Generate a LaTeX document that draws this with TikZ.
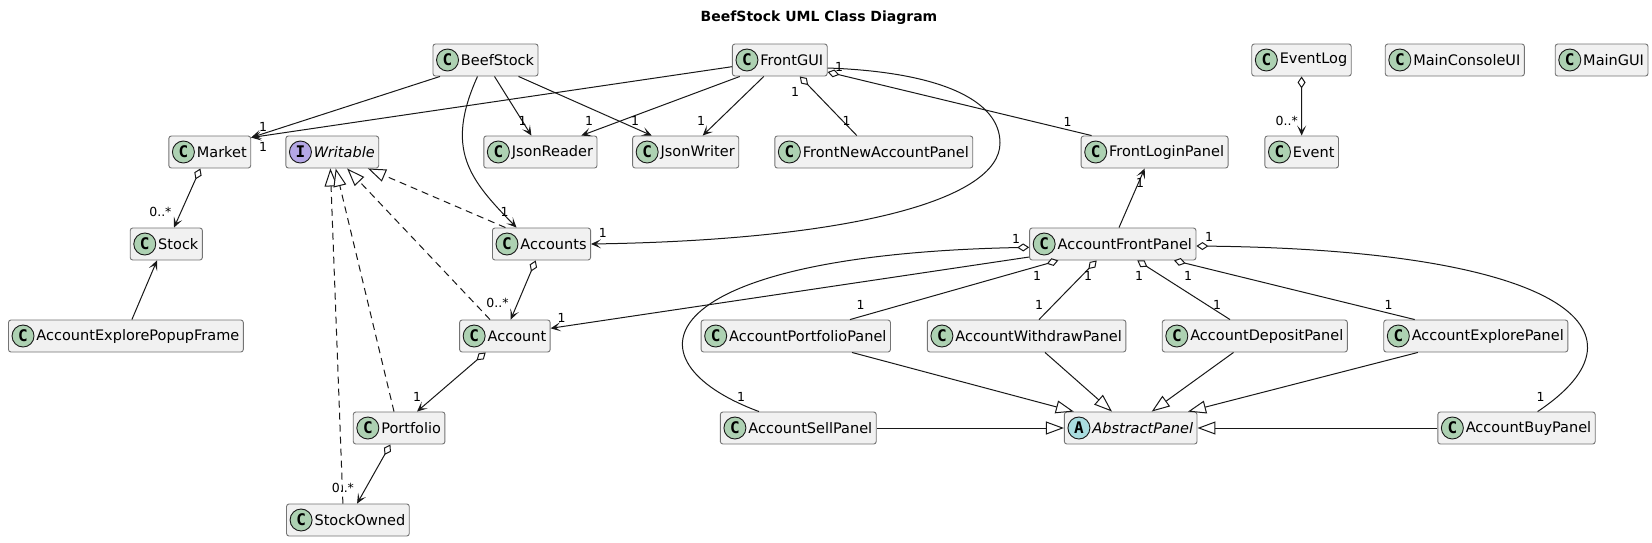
\documentclass[tikz,border=0pt]{standalone}
\usepackage{fontspec}
\setmainfont{DejaVu Sans}
\newfontfamily\iconfont{DejaVu Sans Mono}
\usetikzlibrary{arrows.meta}

\definecolor{iconC}{HTML}{ADD1B2}
\definecolor{iconI}{HTML}{B4A7E5}
\definecolor{iconA}{HTML}{A9DCDF}
\definecolor{boxfill}{HTML}{F1F1F1}
\definecolor{linecol}{HTML}{181818}

\begin{document}
\begin{tikzpicture}[
    x=1pt, y=-1pt,
    cls/.style={rectangle, draw=linecol!60, line width=0.9pt, fill=boxfill, rounded corners=2.5pt,
        minimum height=32pt, inner xsep=4pt, inner ysep=0pt, font=\fontsize{14.5pt}{17pt}\selectfont},
    icon/.style={circle, draw=linecol, line width=0.9pt, minimum size=22pt, inner sep=0pt,
        font=\iconfont\bfseries\fontsize{16pt}{16pt}\selectfont},
    mult/.style={inner sep=0pt, font=\fontsize{12.5pt}{14pt}\selectfont},
    conn/.style={draw=linecol, line width=1pt},
    assoc/.style={conn, -{Stealth[length=10pt, width=9pt, inset=5pt]}},
    aggr/.style={conn, {Diamond[length=12pt, width=8pt, fill=white]}-},
    aggrto/.style={conn, {Diamond[length=12pt, width=8pt, fill=white]}-{Stealth[length=10pt, width=9pt, inset=5pt]}},
    implements/.style={conn, dash pattern=on 7pt off 5pt, -{Triangle[length=18pt, width=13pt, fill=white]}},
    extends/.style={conn, -{Triangle[length=18pt, width=13pt, fill=white]}}
]
\useasboundingbox (0,0) rectangle (1652,542);
\fill[white] (0,0) rectangle (1652,542);

\node[font=\bfseries\fontsize{14pt}{17pt}\selectfont] (title) at (819,18) {BeefStock UML Class Diagram};

% classes
\foreach \n/\x/\y in {BeefStock/485.5/60, FrontGUI/779.8/60, EventLog/1301.5/60,
    MainConsoleUI/1454.8/60, MainGUI/1601.6/60,
    Market/209.8/152, JsonReader/540.4/152, JsonWriter/685.7/152,
    FrontNewAccountPanel/873.8/152, FrontLoginPanel/1154.6/152, Event/1301.7/152,
    Stock/166.3/244, Accounts/541.5/244, AccountFrontPanel/1112.8/244,
    AccountExplorePopupFrame/125.9/336, Account/504.9/336, AccountPortfolioPanel/795.8/336,
    AccountWithdrawPanel/1026.6/336, AccountDepositPanel/1254.8/336, AccountExplorePanel/1475.8/336,
    Portfolio/399.1/428, AccountSellPanel/798.3/428, AccountBuyPanel/1516.5/428,
    StockOwned/347.9/520} {
    \node[cls] (\n) at (\x,\y) {\hspace{24pt}\n};
    \node[icon, fill=iconC] (\n-icon) at ([xshift=15pt]\n.west) {C};
}

% interface and abstract class
\node[cls] (Writable) at (332.3,152) {\hspace{24pt}\textit{Writable}};
\node[icon, fill=iconI] (Writable-icon) at ([xshift=15pt]Writable.west) {I};
\node[cls] (AbstractPanel) at (1130.7,428) {\hspace{24pt}\textit{AbstractPanel}};
\node[icon, fill=iconA] (AbstractPanel-icon) at ([xshift=15pt]AbstractPanel.west) {A};

% BeefStock and FrontGUI
\draw[assoc] ([xshift=-45.5pt]BeefStock.south) -- ([yshift=-2pt]Market.north east);
\draw[assoc] ([yshift=-6.7pt]FrontGUI.west) -- ([yshift=-2pt]Market.north east);
\draw[assoc] ([xshift=9pt]BeefStock.south) -- ([xshift=-9pt]JsonReader.north);
\draw[assoc] ([xshift=33pt]BeefStock.south) -- ([xshift=-34pt]JsonWriter.north);
\draw[assoc] ([xshift=-8pt]BeefStock.south) .. controls +(-33,73) and +(-47,-48) .. ([xshift=-25pt]Accounts.north);
\draw[assoc] ([xshift=-40pt]FrontGUI.south) -- ([xshift=41pt]JsonReader.north);
\draw[assoc] ([xshift=-16pt]FrontGUI.south) -- ([xshift=17pt]JsonWriter.north);
\draw[aggr] ([xshift=20pt]FrontGUI.south) -- ([xshift=-17pt]FrontNewAccountPanel.north);
\draw[aggr] ([yshift=-12pt]FrontGUI.east) -- ([xshift=-63pt]FrontLoginPanel.north);
\draw[assoc] ([yshift=-8pt]FrontGUI.east) .. controls (940,72) and (1000,100) .. (1000,143)
    .. controls (1000,200) and (850,240) .. (Accounts.east);
\draw[aggrto] (EventLog) -- (Event);

% model classes
\draw[aggrto] ([xshift=-9.4pt]Market.south) -- ([xshift=7.7pt]Stock.north);
\draw[assoc] ([xshift=6pt]AccountExplorePopupFrame.north) -- ([xshift=-9.3pt]Stock.south);
\draw[implements] ([xshift=-5pt]StockOwned.north) -- ([xshift=-1.9pt]Writable.south);
\draw[implements] ([xshift=-5.1pt]Portfolio.north) -- ([xshift=3.4pt]Writable.south);
\draw[implements] ([xshift=-14.9pt]Account.north) -- ([xshift=14.8pt]Writable.south);
\draw[implements] ([xshift=-36.1pt]Accounts.north) -- ([xshift=35.6pt]Writable.south);
\draw[aggrto] ([xshift=-5.8pt]Accounts.south) -- ([xshift=5.8pt]Account.north);
\draw[aggrto] ([xshift=-19.2pt]Account.south) -- ([xshift=17.9pt]Portfolio.north);
\draw[aggrto] ([xshift=-8.7pt]Portfolio.south) -- ([xshift=9.2pt]StockOwned.north);

% panels
\draw[assoc] ([xshift=6.2pt]AccountFrontPanel.north) -- ([xshift=-9.9pt]FrontLoginPanel.south);
\draw[assoc] ([yshift=-13pt]AccountFrontPanel.west) -- ([yshift=7.7pt]Account.east);
\draw[aggr] ([yshift=-3.3pt]AccountFrontPanel.west) .. controls (650,255) and (620,360) .. ([xshift=-39.3pt]AccountSellPanel.north);
\draw[aggr] ([xshift=-54.5pt]AccountFrontPanel.south) -- ([xshift=54.2pt]AccountPortfolioPanel.north);
\draw[aggr] ([xshift=-16.1pt]AccountFrontPanel.south) -- ([xshift=12.4pt]AccountWithdrawPanel.north);
\draw[aggr] ([xshift=24.5pt]AccountFrontPanel.south) -- ([xshift=-24.8pt]AccountDepositPanel.north);
\draw[aggr] ([xshift=61.2pt]AccountFrontPanel.south) -- ([xshift=-61.1pt]AccountExplorePanel.north);
\draw[aggr] ([yshift=-2pt]AccountFrontPanel.east) .. controls (1560,250) and (1660,330) .. ([xshift=21.1pt]AccountBuyPanel.north);
\draw[extends] ([xshift=56.2pt]AccountPortfolioPanel.south) -- ([xshift=-56.9pt]AbstractPanel.north);
\draw[extends] ([xshift=18.4pt]AccountWithdrawPanel.south) -- ([xshift=-18.7pt]AbstractPanel.north);
\draw[extends] ([xshift=-21.3pt]AccountDepositPanel.south) -- ([xshift=21pt]AbstractPanel.north);
\draw[extends] ([xshift=-58pt]AccountExplorePanel.south) -- ([xshift=57.3pt]AbstractPanel.north);
\draw[extends] (AccountSellPanel) -- (AbstractPanel);
\draw[extends] (AccountBuyPanel) -- (AbstractPanel);

% multiplicities
\foreach \x/\y/\lbl [count=\i] in {263/127/1, 263/147/1, 522.5/121/1, 635/121/1, 504.5/212/1,
    589/121/1, 701/121/1, 795/92/1, 846.6/121/1, 839/67/1, 1067.7/122/1, 602.8/233/1,
    160.4/212/{0..*}, 497.5/303/{0..*}, 417/397/1, 342.9/488/{0..*}, 1140/183/1, 561.7/318/1,
    1016/239/1, 741/397/1, 1037/276/1, 860.7/305/1, 1088/276/1, 1039/305/1, 1139/276/1,
    1217/305/1, 1188/276/1, 1388.6/305/1, 1209/237/1, 1540.6/397/1, 1286.7/121/{0..*}} {
    \node[mult] (m\i) at (\x,\y) {\lbl};
}

\end{tikzpicture}
\end{document}
